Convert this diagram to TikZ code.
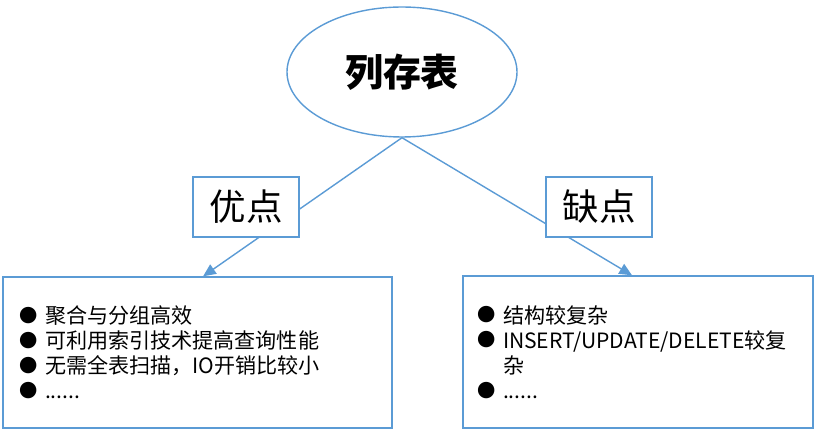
\documentclass[tikz,border=0pt]{standalone}
\usepackage{fontspec}
\usetikzlibrary{arrows.meta,shapes.geometric}
\newfontfamily\cjk{Noto Sans CJK SC}
\definecolor{linkblue}{HTML}{5B9BD5}
\newcommand{\itm}{\makebox[0.65cm][l]{\raisebox{0.9pt}{\fontsize{13}{13}\selectfont ●}}}

\begin{document}
\begin{tikzpicture}[
        edge/.style={draw=linkblue, line width=1pt},
        labelbox/.style={edge, fill=white, minimum width=2.65cm, minimum height=1.5cm, inner sep=0pt, font=\cjk\fontsize{26}{30}\selectfont},
        listbox/.style={edge, align=left, font=\cjk\fontsize{15}{17.8}\selectfont},
        link/.style={linkblue, line width=1pt, -{Triangle[length=9pt,width=8pt]}}
    ]
        \useasboundingbox (0,0) rectangle (20.425,10.825);

        \node [ellipse, edge, minimum width=5.75cm, minimum height=3.25cm, inner sep=0pt, font=\cjk\bfseries\fontsize{27}{30}\selectfont] (table) at (10.05,9.025) {列存表};

        \node [listbox, inner xsep=0.4cm, text width=8.925cm, minimum height=3.775cm] (pros) at (4.9375,2.0125)
            {\itm 聚合与分组高效\\
             \itm 可利用索引技术提高查询性能\\
             \itm 无需全表扫描，IO开销比较小\\
             \itm ......};
        \node [listbox, inner xsep=0.35cm, text width=8.05cm, minimum height=3.8cm] (cons) at (15.95,2.025)
            {\itm 结构较复杂\\
             \itm INSERT/UPDATE/DELETE较复\\
             \hspace*{0.65cm}杂\\
             \itm ......};

        \coordinate (ptip) at ([xshift=0.14cm]pros.north);
        \coordinate (ctip) at ([xshift=-0.15cm]cons.north);
        \draw [link] (table.south) to (ptip);
        \draw [link] (table.south) to (ctip);

        \node [labelbox] (good) at (6.15,5.65) {优点};
        \node [labelbox] (bad) at (14.975,5.65) {缺点};
    \end{tikzpicture}
\end{document}
